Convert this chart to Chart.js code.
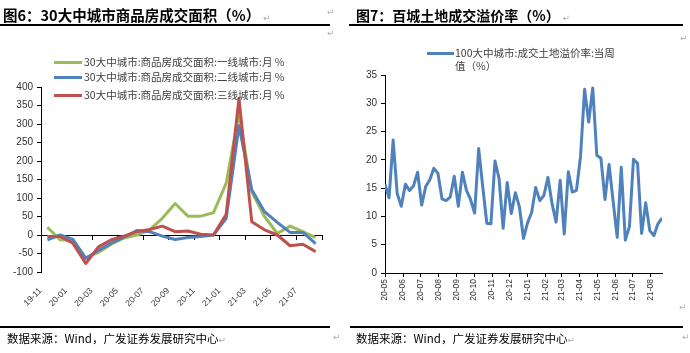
<!DOCTYPE html>
<html><head><meta charset="utf-8">
<script src="https://cdn.jsdelivr.net/npm/chart.js@4.4.1/dist/chart.umd.min.js"></script>
<style>
html,body{margin:0;padding:0;background:#fff;}
body{width:690px;height:353px;position:relative;overflow:hidden;font-family:"Noto Sans CJK SC","Noto Sans",sans-serif;}
canvas{position:absolute;top:0;}
.t{position:absolute;white-space:nowrap;z-index:2;}
.title{font-weight:700;color:#000;}
.rm{color:#b0b0b0;font-weight:400;font-family:"DejaVu Sans",sans-serif;font-size:9px;}
.rule{position:absolute;height:2px;background:#000;z-index:2;}
.lg{position:absolute;white-space:nowrap;z-index:2;font-size:10.5px;color:#404040;line-height:13px;}
.sw{position:absolute;height:3px;}
.src{font-size:11.5px;color:#000;}
</style>
</head><body>
<canvas id="c1" width="345" height="353" style="left:0"></canvas>
<canvas id="c2" width="345" height="353" style="left:345px"></canvas>

<div class="t title" style="left:3px;top:4px;font-size:14.5px;">图6：30大中城市商品房成交面积（%）<span class="rm"> ↵</span></div>
<div class="rule" style="left:0;top:24px;width:330px;"></div>
<div class="t rm" style="left:327px;top:7px;">↵</div>
<div class="t rm" style="left:327px;top:28px;">↵</div>

<div class="t title" style="left:356px;top:5px;font-size:14px;">图7：百城土地成交溢价率（%）<span class="rm"> ↵</span></div>
<div class="rule" style="left:349px;top:24px;width:334px;"></div>
<div class="t rm" style="left:680px;top:33px;">↵</div>
<div class="t rm" style="left:679px;top:302px;">↵</div>

<div class="rule" style="left:0;top:326px;width:330px;"></div>
<div class="t src" style="left:7px;top:330px;">数据来源：Wind，广发证券发展研究中心<span class="rm">↵</span></div>
<div class="t rm" style="left:333px;top:332px;">↵</div>
<div class="rule" style="left:350px;top:326px;width:333px;"></div>
<div class="t src" style="left:356px;top:330px;">数据来源：Wind，广发证券发展研究中心<span class="rm">↵</span></div>
<div class="t rm" style="left:682px;top:332px;">↵</div>

<div id="legL"></div>
<div id="legR"></div>

<script>
// ---------- Left chart data ----------
const monthsL = ['19-11','19-12','20-01','20-02','20-03','20-04','20-05','20-06','20-07','20-08','20-09','20-10','20-11','20-12','21-01','21-02','21-03','21-04','21-05','21-06','21-07','21-08'];
const tier1 = [21, -13, -15, -62, -47, -25, -8, 0, 14, 45, 85, 51, 51, 60, 140, 329, 117, 50, 4, 24, 9, -7];
const tier2 = [-13, 0, -12, -63, -42, -22, -6, 12, 9, -3, -12, -7, -4, 0, 45, 295, 122, 63, 34, 7, 7, -23];
const tier3 = [-4, -4, -22, -77, -32, -13, -3, 9, 15, 24, 9, 11, 2, 0, 56, 369, 36, 14, 0, -29, -25, -45];
const namesL = ['30大中城市:商品房成交面积:一线城市:月 %','30大中城市:商品房成交面积:二线城市:月 %','30大中城市:商品房成交面积:三线城市:月 %'];
const yMinL = -100, yMaxL = 400, yStepL = 50;

// ---------- Right chart data ----------
const monthsR = ['20-05','20-06','20-07','20-08','20-09','20-10','20-11','20-12','21-01','21-02','21-03','21-04','21-05','21-06','21-07','21-08'];
const premium = [15.7,13.3,23.5,14.0,11.8,15.7,14.6,15.4,17.8,12.0,15.3,16.5,18.5,17.6,13.1,12.8,13.4,17.1,11.8,17.8,
  14.6,13.0,10.6,22.0,15.2,8.8,8.7,19.8,16.7,7.9,16.0,10.5,14.2,11.7,6.1,8.9,10.7,15.1,12.8,13.7,
  16.9,12.3,9.0,16.4,6.9,17.9,14.3,14.6,20.6,32.5,26.7,32.7,20.8,20.3,13.0,19.2,12.7,6.3,18.7,5.8,
  8.2,20.1,19.4,7.0,12.4,7.5,6.6,8.7,9.7];
const nameR = ['100大中城市:成交土地溢价率:当周', '值（%）'];
const yMinR = 0, yMaxR = 35, yStepR = 5;

const colors = ['#9BBB59','#4F81BD','#C0504D'];
const tickFont = {family:'"Liberation Sans", Arial, sans-serif', size:10};
const tickColor = '#333333';

// ---------- Left chart ----------
new Chart(document.getElementById('c1'), {
  type:'line',
  data:{
    labels: monthsL,
    datasets:[tier1,tier2,tier3].map((d,i)=>({
      label: namesL[i], data:d, borderColor:colors[i], backgroundColor:colors[i],
      borderWidth:3, pointRadius:0, tension:0, order:3-i, borderJoinStyle:'round', xAxisID:'x', yAxisID:'y'
    }))
  },
  options:{
    responsive:false, animation:false,
    layout:{padding:{top:87,left:0,right:23,bottom:36}},
    plugins:{legend:{display:false},tooltip:{enabled:false}},
    scales:{
      x:{type:'category', offset:true, position:'bottom',
        grid:{display:false, drawTicks:false}, border:{display:false},
        ticks:{autoSkip:false, minRotation:45, maxRotation:45, padding:14, labelOffset:-7,
          font:{...tickFont, size:8.5}, color:tickColor,
          callback:function(v,i){ return i%2===0 ? this.getLabelForValue(v) : ''; }},
        afterFit:s=>{ s.height = 45; }
      },
      x0:{type:'category', labels: monthsL, offset:true, position:{y:0},
        grid:{offset:true, drawOnChartArea:false, drawTicks:true, tickLength:4, lineWidth:1,
          color: c => (c.type!=='tick' || c.index%2===0) ? '#000' : 'rgba(0,0,0,0)'},
        border:{display:true, color:'#000', width:1},
        ticks:{display:false}
      },
      y:{min:yMinL, max:yMaxL, position:'left',
        grid:{drawOnChartArea:false, drawTicks:true, tickLength:4, color:'#000'},
        border:{display:true,color:'#000',width:1},
        ticks:{stepSize:yStepL, font:tickFont, color:tickColor, padding:4},
        afterFit:s=>{ s.width = 41; }
      }
    }
  }
});

// ---------- Right chart ----------
const dayOf = m => { const y = 2000 + parseInt(m.slice(0,2)), mo = parseInt(m.slice(3)) - 1; return Date.UTC(y, mo, 1)/86400000; };
const day0 = dayOf(monthsR[0]);
const monthTicks = monthsR.map(m => dayOf(m) - day0);
const premiumPts = premium.map((v,i)=>({x:i*7, y:v}));

new Chart(document.getElementById('c2'), {
  type:'line',
  data:{datasets:[{label:nameR.join(''), data:premiumPts, borderColor:colors[1], borderWidth:3, pointRadius:0, tension:0, borderJoinStyle:'round'}]},
  options:{
    responsive:false, animation:false, parsing:true,
    layout:{padding:{top:75,left:0,right:28,bottom:50}},
    plugins:{legend:{display:false},tooltip:{enabled:false}},
    scales:{
      x:{type:'linear', min:0, max:premiumPts[premiumPts.length-1].x,
        afterBuildTicks:s=>{ s.ticks = monthTicks.map(v=>({value:v})); },
        grid:{drawOnChartArea:false, drawTicks:true, tickLength:4, color:'#000'},
        border:{display:true,color:'#000',width:1},
        ticks:{autoSkip:false, minRotation:90, maxRotation:90, padding:2, font:{...tickFont,size:8.5}, color:tickColor,
          callback:(v)=>{ const k = monthTicks.indexOf(v); return k>=0 ? monthsR[k] : ''; }},
        afterFit:s=>{ s.height = 30; }
      },
      y:{min:yMinR, max:yMaxR,
        grid:{drawOnChartArea:false, drawTicks:true, tickLength:4, color:'#000'},
        border:{display:true,color:'#000',width:1},
        ticks:{stepSize:yStepR, font:tickFont, color:tickColor, padding:4},
        afterFit:s=>{ s.width = 40; }
      }
    }
  }
});

// ---------- Legends (HTML) ----------
const legL = document.getElementById('legL');
const rowsY = [62, 77, 95];
namesL.forEach((n,i)=>{
  const sw = document.createElement('div'); sw.className='sw';
  sw.style.cssText = `left:54px;top:${rowsY[i]-1}px;width:28px;background:${colors[i]};z-index:2;`;
  legL.appendChild(sw);
  const tx = document.createElement('div'); tx.className='lg'; tx.textContent = n;
  tx.style.left='84px'; tx.style.top=(rowsY[i]-7)+'px';
  legL.appendChild(tx);
});
const legR = document.getElementById('legR');
const swR = document.createElement('div'); swR.className='sw';
swR.style.cssText = `left:427px;top:52px;width:27px;background:${colors[1]};z-index:2;`;
legR.appendChild(swR);
nameR.forEach((n,i)=>{
  const tx = document.createElement('div'); tx.className='lg'; tx.textContent = n;
  tx.style.left='455px'; tx.style.top=(46 + i*13)+'px';
  legR.appendChild(tx);
});
</script>
</body></html>
